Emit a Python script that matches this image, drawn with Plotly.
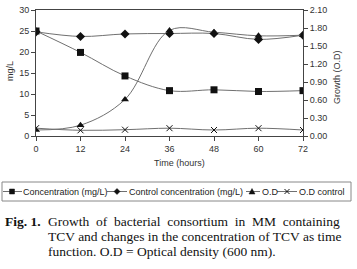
import plotly.graph_objects as go

time_h = [0, 12, 24, 36, 48, 60, 72]
concentration = [25.0, 19.9, 14.3, 10.8, 11.0, 10.6, 10.8]
control_concentration = [24.8, 23.7, 24.3, 24.4, 24.4, 23.0, 24.0]
od = [0.10, 0.18, 0.61, 1.76, 1.73, 1.67, 1.68]
od_control = [0.13, 0.095, 0.105, 0.13, 0.10, 0.13, 0.10]

x_ticks = [0, 12, 24, 36, 48, 60, 72]
y1_ticks = [0, 5, 10, 15, 20, 25, 30]
y2_ticks = [0.0, 0.3, 0.6, 0.9, 1.2, 1.5, 1.8, 2.1]

series_names = ["Concentration (mg/L)", "Control concentration (mg/L)", "O.D", "O.D control"]

LINE = "#707070"
MK = "#111111"
AX = "#444444"
FONT = "Liberation Sans, Arial, sans-serif"
SERIF = "Liberation Serif, Times New Roman, serif"

W, H = 357, 269
L, R, T, B = 36, 54, 10, 133
pw = W - L - R
ph = H - T - B


def px_x(p):
    return (p - L) / pw


def px_y(p):
    return (H - B - p) / ph


fig = go.Figure()
fig.add_trace(go.Scatter(
    x=time_h, y=concentration, name=series_names[0], mode="lines+markers",
    line=dict(color=LINE, width=1, shape="spline", smoothing=1),
    marker=dict(symbol="square", size=7, color=MK), yaxis="y"))
fig.add_trace(go.Scatter(
    x=time_h, y=control_concentration, name=series_names[1], mode="lines+markers",
    line=dict(color=LINE, width=1, shape="spline", smoothing=1),
    marker=dict(symbol="diamond", size=7, color=MK), yaxis="y"))
fig.add_trace(go.Scatter(
    x=time_h, y=od, name=series_names[2], mode="lines+markers",
    line=dict(color=LINE, width=1, shape="spline", smoothing=1),
    marker=dict(symbol="triangle-up", size=7, color=MK), yaxis="y2"))
fig.add_trace(go.Scatter(
    x=time_h, y=od_control, name=series_names[3], mode="lines+markers",
    line=dict(color=LINE, width=1, shape="spline", smoothing=1),
    marker=dict(symbol="x-thin-open", size=6, color=MK, line=dict(width=1, color=MK)), yaxis="y2"))

fig.update_layout(
    width=W, height=H,
    margin=dict(l=L, r=R, t=T, b=B, pad=0),
    paper_bgcolor="white", plot_bgcolor="white",
    font=dict(family=FONT, size=9, color="#333333"),
    showlegend=False,
    xaxis=dict(
        range=[0, 72], tickvals=x_ticks, showgrid=False, zeroline=False,
        showline=True, linecolor=AX, linewidth=1, mirror=True, automargin=False,
        ticks="outside", ticklen=4, tickcolor=AX, fixedrange=True,
    ),
    yaxis=dict(
        range=[0, 30], tickvals=y1_ticks, showgrid=False, zeroline=False,
        showline=True, linecolor=AX, linewidth=1, mirror=True, automargin=False,
        ticks="outside", ticklen=4, tickcolor=AX,
    ),
    yaxis2=dict(
        range=[0, 2.1], tickvals=y2_ticks, tickformat=".2f", overlaying="y", side="right",
        showgrid=False, zeroline=False, showline=True, linecolor=AX, linewidth=1,
        automargin=False, ticks="outside", ticklen=4, tickcolor=AX,
    ),
)

# axis titles
fig.add_annotation(text="Time (hours)", xref="paper", yref="paper", x=px_x(179), y=px_y(163),
                   xanchor="center", yanchor="middle", showarrow=False, font=dict(size=9))
fig.add_annotation(text="mg/L", xref="paper", yref="paper", x=px_x(10), y=px_y(71),
                   xanchor="center", yanchor="middle", textangle=-90, showarrow=False, font=dict(size=9))
fig.add_annotation(text="Growth (O.D)", xref="paper", yref="paper", x=px_x(337), y=px_y(77),
                   xanchor="center", yanchor="middle", textangle=-90, showarrow=False, font=dict(size=9))

# legend (drawn manually to match the compact layout)
shapes = []
shapes.append(dict(type="rect", xref="paper", yref="paper",
                   x0=px_x(2), x1=px_x(351), y0=px_y(182), y1=px_y(201),
                   line=dict(color="#888888", width=1), fillcolor="rgba(0,0,0,0)"))
ly = 191.5
items = [
    (3, 22, 12, "square", 22),
    (107, 127, 117, "diamond", 128),
    (246, 260, 252, "triangle", 261),
    (277, 297, 287, "x", 298),
]
for (x0, x1, xm, sym, xt), name in zip(items, series_names):
    shapes.append(dict(type="line", xref="paper", yref="paper",
                       x0=px_x(x0), x1=px_x(x1), y0=px_y(ly), y1=px_y(ly),
                       line=dict(color=LINE, width=1)))
    if sym == "square":
        shapes.append(dict(type="rect", xref="paper", yref="paper",
                           x0=px_x(xm - 2.5), x1=px_x(xm + 2.5), y0=px_y(ly + 2.5), y1=px_y(ly - 2.5),
                           line=dict(color=MK, width=0.5), fillcolor=MK))
    elif sym == "diamond":
        p = "M {} {} L {} {} L {} {} L {} {} Z".format(
            px_x(xm), px_y(ly - 3), px_x(xm + 3), px_y(ly), px_x(xm), px_y(ly + 3), px_x(xm - 3), px_y(ly))
        shapes.append(dict(type="path", xref="paper", yref="paper", path=p,
                           line=dict(color=MK, width=0.5), fillcolor=MK))
    elif sym == "triangle":
        p = "M {} {} L {} {} L {} {} Z".format(
            px_x(xm), px_y(ly - 3), px_x(xm + 3), px_y(ly + 2.5), px_x(xm - 3), px_y(ly + 2.5))
        shapes.append(dict(type="path", xref="paper", yref="paper", path=p,
                           line=dict(color=MK, width=0.5), fillcolor=MK))
    else:
        for dy in (-2.5, 2.5):
            shapes.append(dict(type="line", xref="paper", yref="paper",
                               x0=px_x(xm - 2.5), x1=px_x(xm + 2.5), y0=px_y(ly - dy), y1=px_y(ly + dy),
                               line=dict(color=MK, width=1)))
    fig.add_annotation(text=name, xref="paper", yref="paper", x=px_x(xt), y=px_y(ly + 0.5),
                       xanchor="left", yanchor="middle", showarrow=False, borderpad=0,
                       font=dict(size=9, color="#222222"))
fig.update_layout(shapes=shapes)

# caption
NB = "&nbsp;"
caption_lines = [
    "Growth{0}of{0}bacterial{0}consortium{0}in{0}MM{0}containing".format(NB + " "),
    "TCV and changes in the concentration of TCV as time",
    "function. O.D = Optical density (600 nm).",
]
cap_y = [221, 236.5, 252]
fig.add_annotation(text="<b>Fig. 1.</b>", xref="paper", yref="paper",
                   x=px_x(4), y=px_y(cap_y[0]), xanchor="left", yanchor="middle", borderpad=0,
                   showarrow=False, font=dict(family=SERIF, size=13.5, color="#111111"))
for line, yy in zip(caption_lines, cap_y):
    fig.add_annotation(text=line, xref="paper", yref="paper",
                       x=px_x(47), y=px_y(yy), xanchor="left", yanchor="middle", borderpad=0,
                       showarrow=False, font=dict(family=SERIF, size=13.5, color="#111111"))

fig.write_html(
    "out.html",
    config={"displayModeBar": False, "staticPlot": True},
    post_script="document.body.style.margin='0';document.body.style.overflow='hidden';",
)
